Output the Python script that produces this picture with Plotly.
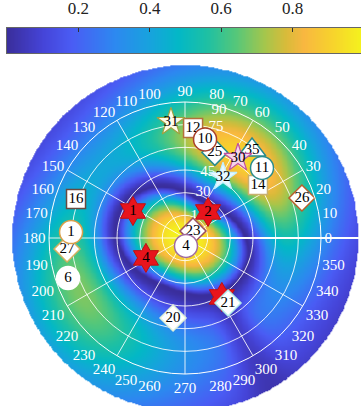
import numpy as np
import plotly.graph_objects as go

# ---------------- data ----------------
cbar_ticks = [0.2, 0.4, 0.6, 0.8]
ang_ticks = list(range(0, 360, 10))
ang_text = [str(a) for a in ang_ticks]
rad_ticks = [15, 30, 45, 60, 75, 90]
spoke_angles = list(range(0, 360, 30))

# visible radial tick labels and their anchor positions (r, theta)
rad_lab_text = ["15", "30", "45", "75", "90"]
rad_lab_r = [16.9, 32.6, 46.0, 76.3, 87.6]
rad_lab_theta = [59.4, 68.6, 70.8, 74.4, 75.1]

# red hexagram sources
src_labels = ["1", "2", "4", ""]
src_theta = [152.6, 48.5, 207.0, 302.0]
src_r = [38.8, 23.0, 29.0, 46.0]

# receivers by shape
circ_labels = ["10", "11", "1", "6", "4"]
circ_theta = [78.5, 42.3, 177.0, 198.9, 277.0]
circ_r = [66.6, 68.9, 75.5, 81.8, 5.3]
circ_edge = ["#a8402c", "#2a8c8c", "#d9a04a", "#ffffff", "#a06aa0"]

sq_labels = ["12", "14", "16"]
sq_theta = [85.8, 36.0, 160.3]
sq_r = [73.0, 59.7, 76.6]
sq_edge = ["#b4703c", "#c8b070", "#6a4a40"]

dia_labels = ["25", "26", "27", "23", "21", "20"]
dia_theta = [70.8, 18.9, 185.3, 41.0, 303.5, 261.5]
dia_r = [60.0, 81.8, 78.4, 7.0, 51.6, 53.5]
dia_edge = ["#2a8c8c", "#b8602c", "#d4b060", "#9a5060", "#b0e8e8", "#e0f0d8"]

tri_labels = ["35"]
tri_theta = [52.7]
tri_r = [73.2]
tri_edge = ["#2a8c8c"]

star_labels = ["31", "32", "30"]
star_theta = [96.9, 58.1, 56.5]
star_r = [77.3, 47.6, 63.5]
star_fill = ["#fffbe8", "#e8f8ff", "#f4d4ec"]
star_edge = ["#a0a040", "#c0f0ff", "#c050a0"]

# ---------------- background field ----------------
S = 136 / 90.0          # px per radial unit
g = np.linspace(-118, 118, 421)
X, Y = np.meshgrid(g, g)
R = np.hypot(X, Y) * S   # work in px
TH = np.degrees(np.arctan2(Y, X)) % 360


def adiff(a, b):
    return (a - b + 180) % 360 - 180


def cosd(a):
    return np.cos(np.radians(a))


r1 = 57 + 11 * cosd(2 * (TH - 155)) - 6 * cosd(TH - 48)
rp = 108 - 10 * cosd(TH - 50)
main = np.where(R < r1, np.cos(np.pi / 2 * np.clip(R / r1, 0, 1) ** 1.3), 0)
A = 0.2 + 0.72 * np.exp(-(adiff(TH, 55) / 62) ** 2) + 0.48 * np.exp(-(adiff(TH, 208) / 55) ** 2)
A = A * (1 - 0.7 * np.exp(-(adiff(TH, 300) / 9) ** 2))
xx = np.clip((R - r1) / (rp - r1), 0, None)
side = np.where(R >= r1, A * (xx * np.exp(1 - xx)) ** 2, 0)
Z = main + side
Z[R > 173] = np.nan

cscale = [
    [0.00, "#3a2e9c"], [0.10, "#4544d8"], [0.18, "#4a5cf4"], [0.30, "#2d88f0"],
    [0.40, "#17a3dd"], [0.48, "#03b8c6"], [0.56, "#1ec0a3"], [0.64, "#55c77a"],
    [0.72, "#a4c64c"], [0.78, "#d8bb3a"], [0.83, "#f8b740"], [0.90, "#f7cf2e"],
    [1.00, "#f4f51c"],
]

SERIF = "Liberation Serif"
W, H = 361, 406
CX, CY = 185, 238   # px centre (from top-left)
RPX = 136           # px radius of 90 circle

fig = go.Figure()

fig.add_trace(go.Heatmap(
    x=g, y=g, z=Z, colorscale=cscale, zmin=0, zmax=1, zsmooth="best",
    showscale=False, hoverinfo="skip", xaxis="x", yaxis="y"))

# thick 0-degree line to right edge
fig.add_trace(go.Scatter(x=[0, 130], y=[0, 0], mode="lines",
                         line=dict(color="white", width=2), hoverinfo="skip",
                         xaxis="x", yaxis="y"))

# colorbar strip
cb = np.linspace(0, 1, 256)
fig.add_trace(go.Heatmap(
    x=cb, y=[0, 1], z=[cb, cb], colorscale=cscale, zmin=0, zmax=1, zsmooth="best",
    showscale=False, hoverinfo="skip", xaxis="x2", yaxis="y2"))

# spokes
sr, st = [], []
for a in spoke_angles:
    sr += [0, 90, None]
    st += [a, a, None]
fig.add_trace(go.Scatterpolar(r=sr, theta=st, mode="lines",
                              line=dict(color="rgba(255,255,255,0.85)", width=1),
                              hoverinfo="skip"))

# radial tick labels
fig.add_trace(go.Scatterpolar(
    r=rad_lab_r, theta=rad_lab_theta, text=rad_lab_text,
    mode="text", textposition="middle center",
    textfont=dict(family=SERIF, size=15, color="white"), hoverinfo="skip"))

tf = dict(family=SERIF, size=15, color="black")

fig.add_trace(go.Scatterpolar(
    r=src_r, theta=src_theta, text=src_labels, mode="markers+text",
    textposition="middle center", textfont=tf,
    marker=dict(symbol="hexagram", size=22, color="#e8141c",
                line=dict(color="#c01010", width=1))))

fig.add_trace(go.Scatterpolar(
    r=sq_r, theta=sq_theta, text=sq_labels, mode="markers+text",
    textposition="middle center", textfont=tf,
    marker=dict(symbol="square", size=19, color="white",
                line=dict(color=sq_edge, width=1.5))))

fig.add_trace(go.Scatterpolar(
    r=dia_r, theta=dia_theta, text=dia_labels, mode="markers+text",
    textposition="middle center", textfont=tf,
    marker=dict(symbol="diamond", size=20, color="white",
                line=dict(color=dia_edge, width=1.5))))

fig.add_trace(go.Scatterpolar(
    r=circ_r, theta=circ_theta, text=circ_labels, mode="markers+text",
    textposition="middle center", textfont=tf,
    marker=dict(symbol="circle", size=23, color="white",
                line=dict(color=circ_edge, width=1.5))))

fig.add_trace(go.Scatterpolar(
    r=tri_r, theta=tri_theta, text=tri_labels, mode="markers+text",
    textposition="middle center", textfont=tf,
    marker=dict(symbol="triangle-up", size=24, color="white",
                line=dict(color=tri_edge, width=1.5))))

fig.add_trace(go.Scatterpolar(
    r=star_r, theta=star_theta, text=star_labels, mode="markers+text",
    textposition="middle center", textfont=tf,
    marker=dict(symbol="star", size=21, color=star_fill,
                line=dict(color=star_edge, width=1.2))))

fig.update_layout(
    width=W, height=H, margin=dict(l=0, r=0, t=0, b=0),
    paper_bgcolor="white", plot_bgcolor="rgba(0,0,0,0)", showlegend=False,
    xaxis=dict(domain=[0, 1], range=[-CX / S, (W - CX) / S], visible=False, fixedrange=True),
    yaxis=dict(domain=[0, 1], range=[-(H - CY) / S, CY / S], visible=False, fixedrange=True),
    xaxis2=dict(domain=[7 / W, 1], range=[0, (W - 7) / 357], anchor="y2", side="top",
                tickvals=cbar_ticks, ticks="inside", ticklen=4, tickcolor="#333",
                ticklabelstandoff=6,
                tickfont=dict(family=SERIF, size=17, color="#222"),
                showline=True, linecolor="#666", linewidth=1, mirror=True,
                showgrid=False, zeroline=False),
    yaxis2=dict(domain=[1 - 53 / H, 1 - 28 / H], range=[0, 1], anchor="x2",
                showticklabels=False, ticks="", showline=True, linecolor="#666",
                linewidth=1, showgrid=False, zeroline=False),
    polar=dict(
        domain=dict(x=[(CX - RPX) / W, (CX + RPX) / W],
                    y=[(H - CY - RPX) / H, (H - CY + RPX) / H]),
        bgcolor="rgba(0,0,0,0)",
        radialaxis=dict(range=[0, 90], tickvals=rad_ticks, showticklabels=False,
                        showline=False, ticks="", gridcolor="rgba(255,255,255,0.85)",
                        gridwidth=1),
        angularaxis=dict(tickmode="array", tickvals=ang_ticks, ticktext=ang_text,
                         rotation=0, direction="counterclockwise", showgrid=False,
                         ticks="", linecolor="white", linewidth=1,
                         tickfont=dict(family=SERIF, size=15, color="white")),
    ),
)

fig.write_html("out.html")
